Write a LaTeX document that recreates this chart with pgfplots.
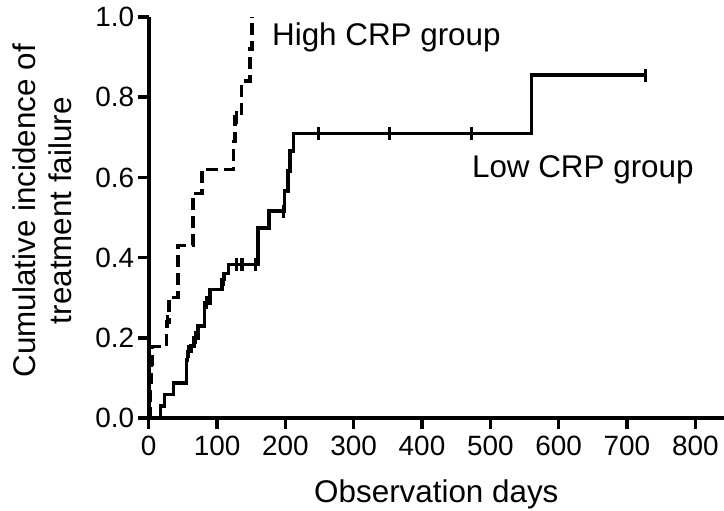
\documentclass[border=0pt]{standalone}
\usepackage{pgfplots}
\pgfplotsset{compat=1.18}
\usepackage{fontspec}
\setmainfont{Liberation Sans}
\begin{document}
\begin{tikzpicture}
\useasboundingbox (-148.7bp,-93bp) rectangle (575.3bp,418bp);
\begin{axis}[
  at={(0,0)}, anchor=south west,
  scale only axis,
  width=575.3bp, height=401bp,
  xmin=0, xmax=842, ymin=0, ymax=1.0,
  axis x line*=bottom, axis y line*=left,
  axis line style={line width=3.8bp, -},
  every tick/.style={line width=3.5bp, black},
  tick align=outside,
  major tick length=11bp,
  xtick={0,100,...,800},
  ytick={0,0.2,0.4,0.6,0.8,1.0},
  /pgf/number format/assume math mode=true,
  yticklabel style={/pgf/number format/.cd, fixed, fixed zerofill, precision=1},
  xticklabel style={yshift=-3bp, /pgf/number format/.cd, fixed},
  tick label style={font=\fontsize{28}{30}\selectfont},
  label style={font=\fontsize{31.5}{37}\selectfont},
  xlabel={Observation days},
  ylabel={Cumulative incidence of\\treatment failure},
  ylabel style={align=center, at={(axis description cs:-0.185,0.517)}, anchor=center},
  xlabel style={at={(axis description cs:0.5,-0.19)}, anchor=center},
  clip=false,
]
% High CRP group (dashed)
\addplot[const plot, black, line width=3.5bp, dash pattern=on 12bp off 6bp] coordinates {
(0,0) (2,0.045) (3,0.09) (4,0.135) (5,0.178) (26,0.24) (30,0.30) (43,0.43)
(65,0.56) (78,0.62) (124,0.69) (126,0.75) (136,0.84) (148,0.92) (151,1.0)
};
\addplot[only marks, mark=|, mark size=6.5bp, mark options={solid, line width=3bp}, black] coordinates {
(27,0.24) (128,0.75)
};
% Low CRP group (solid)
\addplot[const plot, black, line width=3.5bp] coordinates {
(0,0) (17,0.03) (23,0.058) (36,0.087) (55,0.145) (57,0.166) (62,0.18) (66,0.20)
(72,0.23) (82,0.287) (90,0.32) (107,0.345) (110,0.36) (117,0.3825) (160,0.474)
(176,0.516) (199,0.566) (204,0.616) (207,0.666) (212,0.71) (560,0.855) (727,0.855)
};
\addplot[only marks, mark=|, mark size=6.5bp, mark options={solid, line width=3bp}, black] coordinates {
(58,0.166) (68,0.20) (85,0.287) (109,0.345) (129,0.3825) (136,0.3825) (138,0.3825)
(156,0.3825) (198,0.516) (248,0.71) (352,0.71) (472,0.71) (727,0.855)
};
\node[anchor=west, inner sep=0pt, font=\fontsize{31.5}{37}\selectfont] at (axis cs:180.4,0.948) {High CRP group};
\node[anchor=west, inner sep=0pt, font=\fontsize{31.5}{37}\selectfont] at (axis cs:473,0.618) {Low CRP group};
\end{axis}
\end{tikzpicture}
\end{document}
